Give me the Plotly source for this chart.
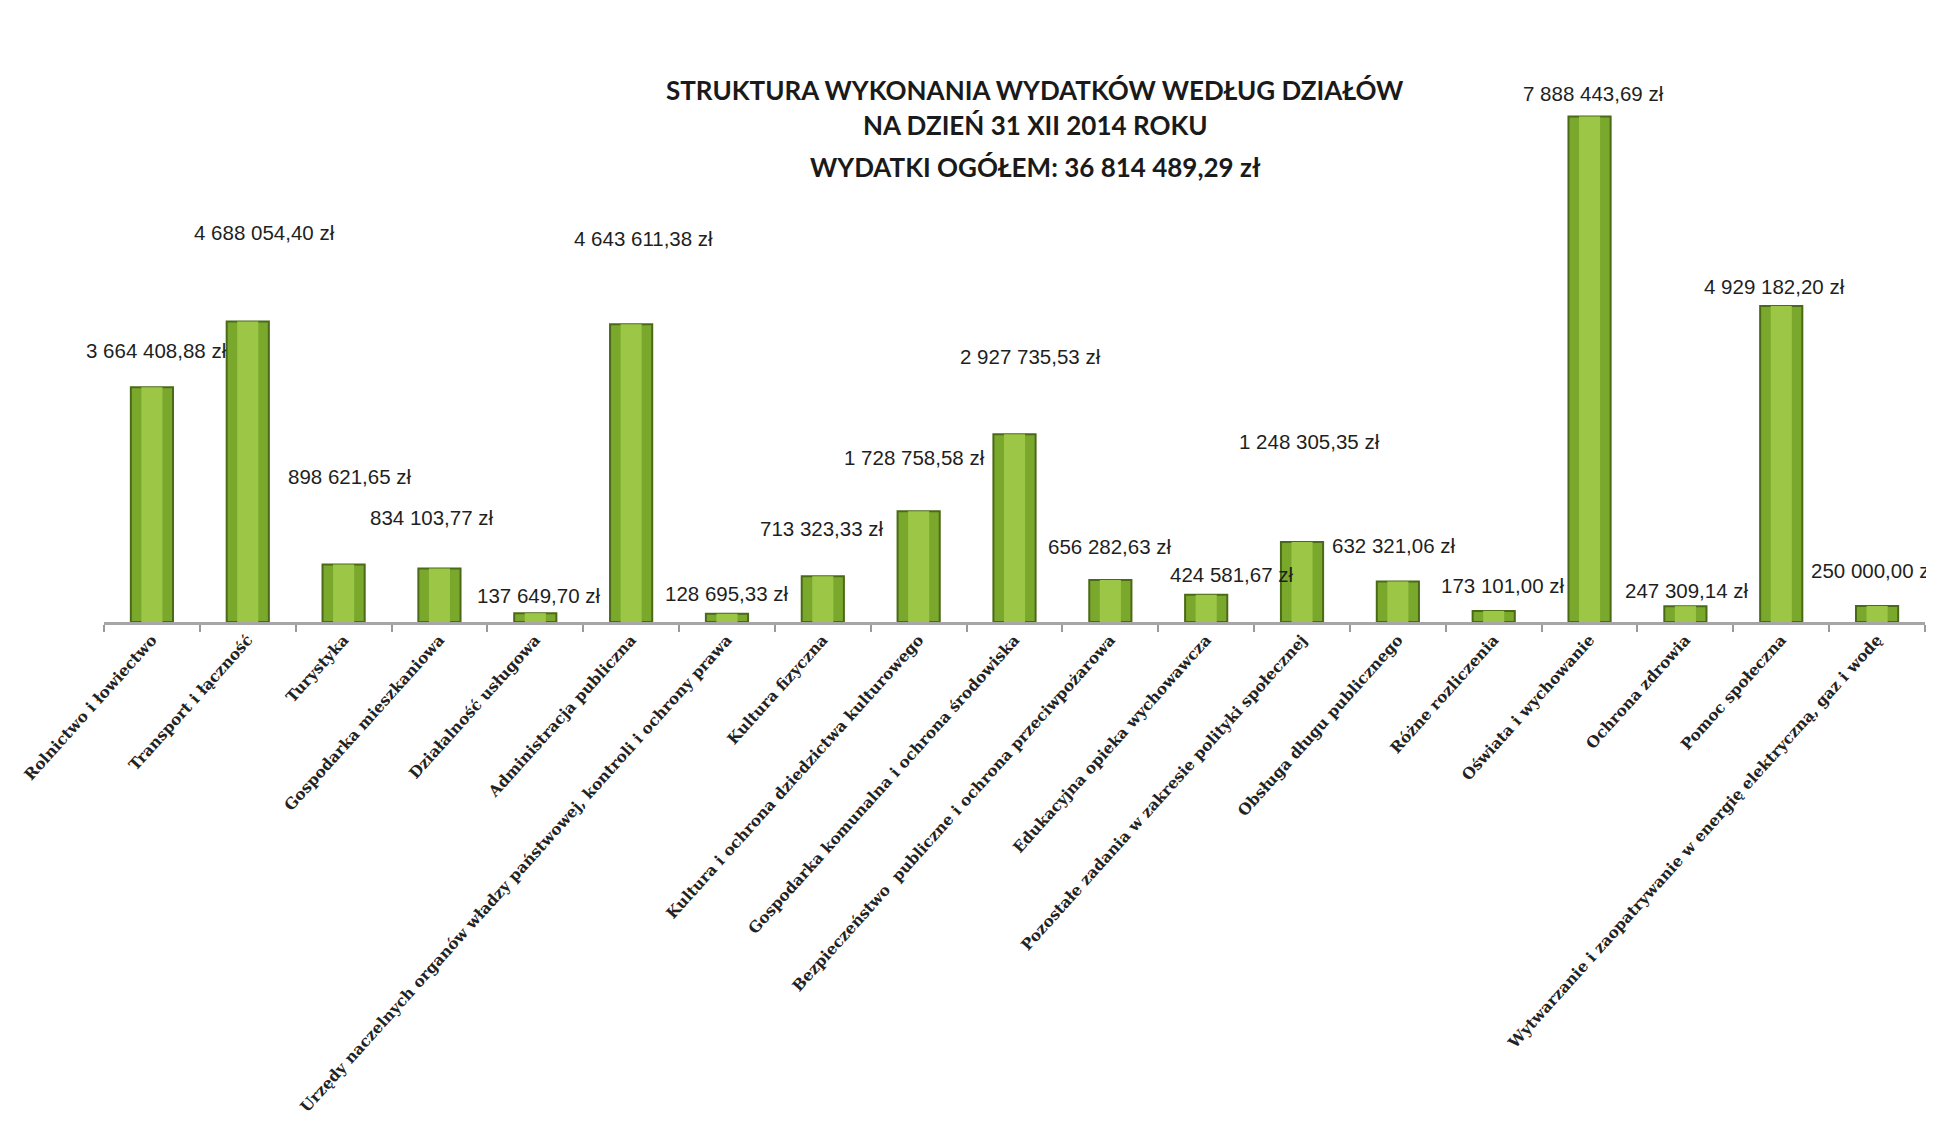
import plotly.graph_objects as go

categories = [
    "Rolnictwo i łowiectwo",
    "Transport i łączność",
    "Turystyka",
    "Gospodarka mieszkaniowa",
    "Działalność usługowa",
    "Administracja publiczna",
    "Urzędy naczelnych organów władzy państwowej, kontroli i ochrony prawa",
    "Kultura fizyczna",
    "Kultura i ochrona dziedzictwa kulturowego",
    "Gospodarka komunalna i ochrona środowiska",
    "Bezpieczeństwo  publiczne i ochrona przeciwpożarowa",
    "Edukacyjna opieka wychowawcza",
    "Pozostałe zadania w zakresie polityki społecznej",
    "Obsługa długu publicznego",
    "Różne rozliczenia",
    "Oświata i wychowanie",
    "Ochrona zdrowia",
    "Pomoc społeczna",
    "Wytwarzanie i zaopatrywanie w energię elektryczną, gaz i wodę",
]

values = [
    3664408.88, 4688054.40, 898621.65, 834103.77, 137649.70, 4643611.38,
    128695.33, 713323.33, 1728758.58, 2927735.53, 656282.63, 424581.67,
    1248305.35, 632321.06, 173101.00, 7888443.69, 247309.14, 4929182.20,
    250000.00,
]

value_labels = [
    "3 664 408,88 zł", "4 688 054,40 zł", "898 621,65 zł", "834 103,77 zł",
    "137 649,70 zł", "4 643 611,38 zł", "128 695,33 zł", "713 323,33 zł",
    "1 728 758,58 zł", "2 927 735,53 zł", "656 282,63 zł", "424 581,67 zł",
    "1 248 305,35 zł", "632 321,06 zł", "173 101,00 zł", "7 888 443,69 zł",
    "247 309,14 zł", "4 929 182,20 zł", "250 000,00 zł",
]

title_lines = [
    "STRUKTURA WYKONANIA WYDATKÓW WEDŁUG DZIAŁÓW",
    "NA DZIEŃ 31 XII 2014 ROKU",
    "WYDATKI OGÓŁEM: 36 814 489,29 zł",
]

# label placement offsets (pixels) relative to top of each bar
label_dx = [5, 17, 6, -7, 4, 12, 0, -1, -4, 16, 0, 26, 7, -4, 9, 4, 2, -7, -4]
label_dy = [37, 89, 88, 51, 18, 86, 20, 48, 54, 78, 33, 20, 100, 36, 25, 23, 16, 20, 35]

# title line offsets (pixels) from top of plot area
title_dy = [-41, -76, -118]

fig = go.Figure()
fig.add_trace(go.Bar(
    x=categories, y=values, width=0.44,
    marker=dict(color="#7aa82c", line=dict(color="#4b6a17", width=2)),
    hoverinfo="skip",
))
fig.add_trace(go.Bar(
    x=categories, y=values, width=0.22,
    marker=dict(color="#9cc746", line=dict(width=0)),
    hoverinfo="skip",
))

for c, v, t, dx, dy in zip(categories, values, value_labels, label_dx, label_dy):
    fig.add_annotation(
        x=c, y=v, text=t, showarrow=False, xanchor="center", yanchor="middle",
        xshift=dx, yshift=dy,
        font=dict(family="Liberation Sans, Arial", size=20.5, color="#1f1f1f"),
    )

for line, dy in zip(title_lines, title_dy):
    fig.add_annotation(
        xref="paper", yref="paper", x=0.517, y=1.0, yanchor="middle", xanchor="center",
        xshift=-10, yshift=dy,
        text="<b>" + line + "</b>",
        showarrow=False, align="center",
        font=dict(family="Lato, Arial", size=26, color="#1a1a1a"),
    )

fig.update_layout(
    width=1934, height=1136,
    margin=dict(l=85, r=17, t=41, b=522),
    paper_bgcolor="white", plot_bgcolor="white",
    barmode="overlay", showlegend=False,
    xaxis=dict(
        type="category", tickangle=-48, tickson="boundaries",
        ticks="outside", ticklen=7, tickcolor="#9a9a9a", tickwidth=1.5,
        showline=True, linecolor="#a6a6a6", linewidth=2.5,
        showgrid=False, zeroline=False,
        tickfont=dict(family="DejaVu Serif", size=15.5, color="#222222", weight="bold"),
        range=[-0.5, 18.5],
    ),
    yaxis=dict(range=[0, 8.94e6], visible=False, showgrid=False, zeroline=False),
)

fig.write_html("out.html")
